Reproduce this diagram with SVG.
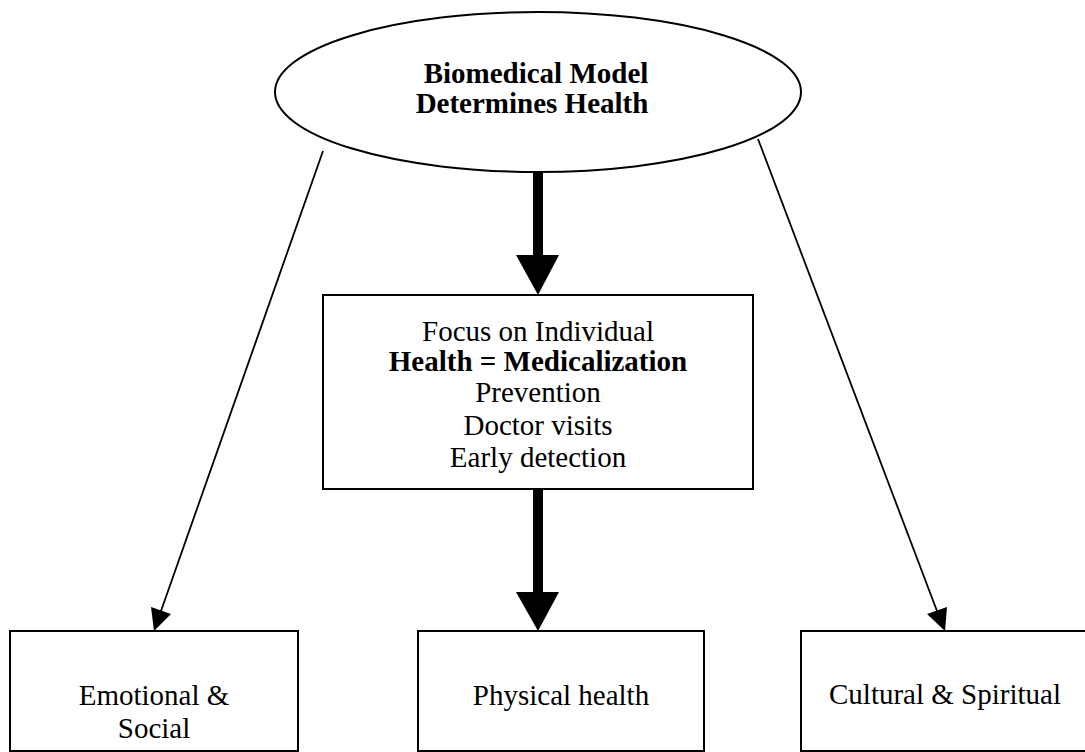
<svg xmlns="http://www.w3.org/2000/svg" width="1085" height="752" viewBox="0 0 1085 752">
  <style>
    .shape { fill: #ffffff; stroke: #000000; stroke-width: 2; }
    .label { font-family: "Liberation Serif", "Times New Roman", serif; font-size: 29px; fill: #000000; text-anchor: middle; }
    .bold { font-weight: bold; }
    .thin { stroke: #000000; stroke-width: 1.8; fill: none; }
    .thick { stroke: #000000; stroke-width: 10; fill: none; }
    .head { fill: #000000; stroke: none; }
  </style>

  <rect width="1085" height="752" fill="#ffffff"/>

  <!-- top ellipse -->
  <g id="biomedical-model">
    <ellipse class="shape" cx="538" cy="92" rx="263" ry="80"/>
    <text class="label bold" x="536" y="83" font-size="30">Biomedical Model</text>
    <text class="label bold" x="532" y="113" font-size="30">Determines Health</text>
  </g>

  <!-- central box -->
  <g id="medicalization">
    <rect class="shape" x="323" y="295" width="430" height="194"/>
    <text class="label" x="538" y="341">Focus on Individual</text>
    <text class="label bold" x="538" y="371">Health = Medicalization</text>
    <text class="label" x="538" y="402">Prevention</text>
    <text class="label" x="538" y="435">Doctor visits</text>
    <text class="label" x="538" y="467">Early detection</text>
  </g>

  <!-- bottom boxes -->
  <g id="emotional-social">
    <rect class="shape" x="10" y="631" width="288" height="120"/>
    <text class="label" x="154" y="705">Emotional &amp;</text>
    <text class="label" x="154" y="738">Social</text>
  </g>

  <g id="physical-health">
    <rect class="shape" x="418" y="631" width="286" height="120"/>
    <text class="label" x="561" y="705">Physical health</text>
  </g>

  <g id="cultural-spiritual">
    <rect class="shape" x="801" y="631" width="290" height="120"/>
    <text class="label" x="945" y="704">Cultural &amp; Spiritual</text>
  </g>

  <!-- connectors -->
  <g id="connectors">
    <!-- heavy arrows down the centre -->
    <line class="thick" x1="538" y1="172" x2="538" y2="257"/>
    <polygon class="head" points="516,255 559,255 538,295"/>
    <line class="thick" x1="538" y1="489" x2="538" y2="594"/>
    <polygon class="head" points="516,592 559,592 538,631"/>

    <!-- thin arrows to the side boxes -->
    <line class="thin" x1="323" y1="151" x2="161" y2="611"/>
    <polygon class="head" points="154,631 151,607 171,614"/>
    <line class="thin" x1="758" y1="139" x2="937" y2="611"/>
    <polygon class="head" points="945,631 927,614 947,607"/>
  </g>
</svg>
